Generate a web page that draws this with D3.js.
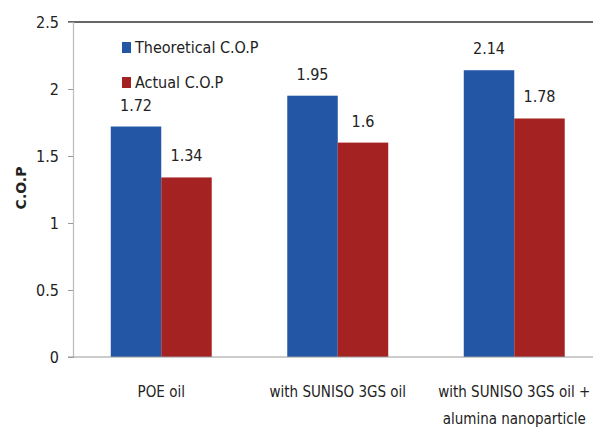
<!DOCTYPE html>
<html>
<head>
<meta charset="utf-8">
<script src="https://cdn.jsdelivr.net/npm/d3@7"></script>
<style>
  html, body { margin: 0; padding: 0; background: #fff; }
  svg { display: block; }
  text { font-family: "Liberation Sans Narrow", "Arial Narrow", "DejaVu Sans Condensed", sans-serif; fill: #222; }
</style>
</head>
<body>
<svg id="chart" width="593" height="428"></svg>
<script>
// Coefficient of performance for three lubricant configurations
const categories = [
  ["POE oil"],
  ["with SUNISO 3GS oil"],
  ["with SUNISO 3GS oil +", "alumina nanoparticle"]
];
const seriesNames = ["Theoretical C.O.P", "Actual C.O.P"];
const theoretical = [1.72, 1.95, 2.14];
const actual = [1.34, 1.6, 1.78];
const yTicks = [0, 0.5, 1, 1.5, 2, 2.5];
const yTickLabels = ["0", "0.5", "1", "1.5", "2", "2.5"];
const colors = ["#2356a4", "#a52222"];

const svg = d3.select("#chart");
const plotLeft = 73, plotTop = 22, plotBottom = 357, plotRight = 602.5;

const catKeys = categories.map(c => c.join(" "));
const x0 = d3.scaleBand().domain(catKeys).range([plotLeft, plotRight]).padding(0);
const x1 = d3.scaleBand().domain(seriesNames).range([0, x0.bandwidth()])
  .paddingInner(0).paddingOuter(0.748);
const y = d3.scaleLinear().domain([0, 2.5]).range([plotBottom, plotTop]);

const rows = catKeys.map((k, i) => ({
  key: k,
  values: [
    { name: seriesNames[0], v: theoretical[i], c: colors[0] },
    { name: seriesNames[1], v: actual[i], c: colors[1] }
  ]
}));

// Top frame line
svg.append("line")
  .attr("x1", plotLeft - 5).attr("x2", 593)
  .attr("y1", y(2.5)).attr("y2", y(2.5))
  .attr("stroke", "#666").attr("stroke-width", 2);

// Y axis
const yAxis = d3.axisLeft(y).tickValues(yTicks)
  .tickFormat((d, i) => yTickLabels[i]).tickSize(5).tickPadding(9);
const gy = svg.append("g").attr("transform", `translate(${plotLeft},0)`).call(yAxis);
gy.select(".domain").attr("stroke", "#bbb").attr("stroke-width", 1.2);
gy.selectAll(".tick line").attr("stroke", "#999");
gy.selectAll(".tick text").style("font-size", "16px").attr("fill", "#333");

// Bars
const groups = svg.append("g").selectAll("g").data(rows).join("g")
  .attr("transform", d => `translate(${x0(d.key)},0)`);
groups.selectAll("rect").data(d => d.values).join("rect")
  .attr("x", d => x1(d.name))
  .attr("y", d => y(d.v))
  .attr("width", x1.bandwidth())
  .attr("height", d => y(0) - y(d.v))
  .attr("fill", d => d.c);

// Value labels
groups.selectAll("text.val").data(d => d.values).join("text")
  .attr("class", "val")
  .attr("x", d => x1(d.name) + x1.bandwidth() / 2)
  .attr("y", d => y(d.v) - 16)
  .attr("text-anchor", "middle")
  .style("font-size", "16px")
  .text(d => d.v);

// X axis baseline
svg.append("line")
  .attr("x1", plotLeft - 5).attr("x2", 593)
  .attr("y1", plotBottom).attr("y2", plotBottom)
  .attr("stroke", "#999").attr("stroke-width", 1.2);

// Category labels
const xl = svg.append("g").selectAll("text").data(categories).join("text")
  .attr("x", (d, i) => x0(catKeys[i]) + x0.bandwidth() / 2)
  .attr("y", 397)
  .attr("text-anchor", "middle")
  .style("font-size", "15px")
  .attr("fill", "#333");
xl.selectAll("tspan").data(d => d).join("tspan")
  .attr("x", function() { return this.parentNode.getAttribute("x"); })
  .attr("dy", (d, i) => i === 0 ? 0 : 27)
  .text(d => d);

// Y axis title
svg.append("text")
  .attr("transform", `translate(26,188) rotate(-90)`)
  .attr("text-anchor", "middle")
  .style("font-family", "'DejaVu Sans', sans-serif")
  .style("font-weight", "bold")
  .style("font-size", "14px")
  .attr("fill", "#111")
  .text("C.O.P");

// Legend
const legend = svg.append("g").selectAll("g").data(seriesNames).join("g")
  .attr("transform", (d, i) => `translate(122,${42 + i * 35})`);
legend.append("rect")
  .attr("width", 9).attr("height", 11)
  .attr("fill", (d, i) => colors[i]);
legend.append("text")
  .attr("x", 13).attr("y", 11)
  .style("font-size", "16px")
  .attr("fill", "#333")
  .text(d => d);
</script>
</body>
</html>
